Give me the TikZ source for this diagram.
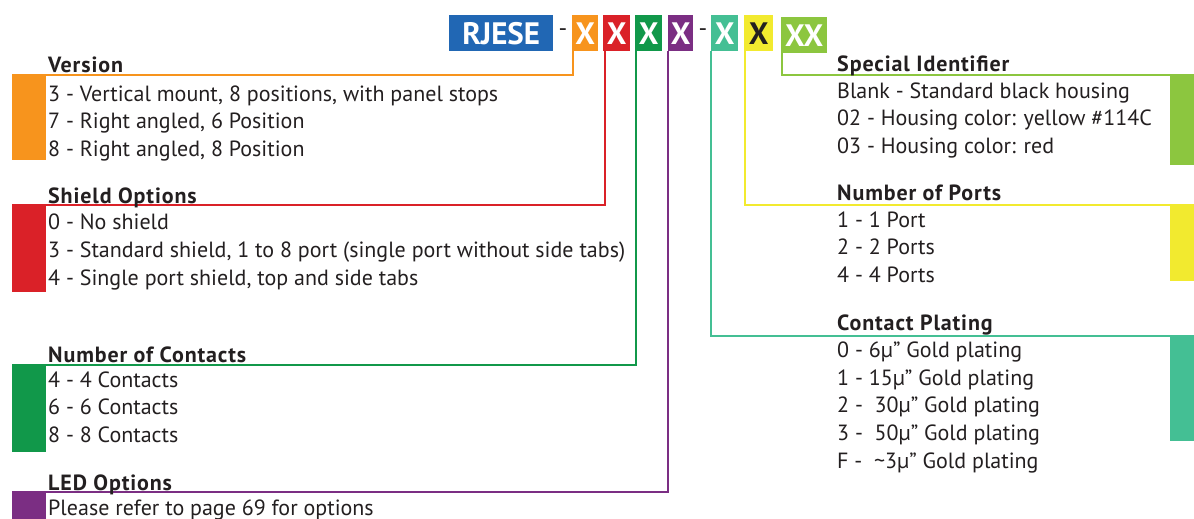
\documentclass[tikz,border=0pt]{standalone}
\usepackage{fontspec}
\setmainfont{PT Sans}
\usetikzlibrary{positioning}
\definecolor{cblue}{HTML}{2167B4}
\definecolor{corange}{HTML}{F7941D}
\definecolor{cred}{HTML}{DA2128}
\definecolor{cgreen}{HTML}{11984A}
\definecolor{cpurple}{HTML}{7B2E83}
\definecolor{cteal}{HTML}{44BF94}
\definecolor{cyellow}{HTML}{F2EA2F}
\definecolor{clime}{HTML}{8CC63F}
\definecolor{ctext}{HTML}{231F20}
\tikzset{
  codebox/.style={fill=#1, text=white, anchor=north west, inner sep=0pt,
    minimum height=36pt, font=\fontsize{31}{33}\selectfont\bfseries},
  wire/.style={draw=#1, line width=2pt},
  heading/.style={anchor=base west, inner sep=0pt, text=ctext,
    font=\fontsize{22}{24}\selectfont\bfseries\addfontfeatures{LetterSpace=4}},
  item/.style={anchor=base west, inner sep=0pt, text=ctext,
    font=\fontsize{22}{24}\selectfont},
}
\begin{document}
\begin{tikzpicture}[x=1pt,y=-1pt]
  \useasboundingbox (0,0) rectangle (1194,519);
  % part number code
  \node[codebox=cblue, minimum width=104pt] (rjese) at (449,15) {RJESE};
  \node[text=ctext, font=\fontsize{24}{26}\selectfont] (dash1) at (563,33) {-};
  \node[codebox=corange, minimum width=26pt] (ver) at (572,15) {X};
  \node[codebox=cred, minimum width=27pt] (shd) at (603,15) {X};
  \node[codebox=cgreen, minimum width=27pt] (con) at (635,15) {X};
  \node[codebox=cpurple, minimum width=25pt] (led) at (668,15) {X};
  \node[text=ctext, font=\fontsize{24}{26}\selectfont] (dash2) at (703,33) {-};
  \node[codebox=cteal, minimum width=27pt] (plt) at (711,15) {X};
  \node[codebox=cyellow, minimum width=29pt, text=ctext] (prt) at (744,15) {X};
  \node[codebox=clime, minimum width=46pt] (spc) at (781,17) {XX};
  % line ends
  \coordinate (verend) at (12,75);
  \coordinate (shdend) at (12,205);
  \coordinate (conend) at (12,365);
  \coordinate (ledend) at (12,492);
  \coordinate (pltend) at (1194,336);
  \coordinate (prtend) at (1194,205);
  \coordinate (spcend) at (1194,75);
  \draw[wire=corange] ([xshift=1pt]ver.south west) |- (verend);
  \draw[wire=cred] ([xshift=2pt]shd.south west) |- (shdend);
  \draw[wire=cgreen] ([xshift=1pt]con.south west) |- (conend);
  \draw[wire=cpurple] ([xshift=0pt]led.south west) |- (ledend);
  \draw[wire=cteal] ([xshift=0pt]plt.south west) |- (pltend);
  \draw[wire=cyellow] ([xshift=1pt]prt.south west) |- (prtend);
  \draw[wire=clime] ([xshift=1pt]spc.south west) |- (spcend);
  % colour bars
  \fill[corange] (12,76) rectangle (46,160);
  \fill[cred] (12,206) rectangle (46,292);
  \fill[cgreen] (12,366) rectangle (46,452);
  \fill[cpurple] (12,493) rectangle (46,519);
  \fill[clime] (1170,76) rectangle (1194,165);
  \fill[cyellow] (1170,206) rectangle (1194,281);
  \fill[cteal] (1170,337) rectangle (1194,441);
  % version
  \node[heading] (vertitle) at (48,73) {Version};
  \node[item] (ver1) at (48,101) {3 - Vertical mount, 8 positions, with panel stops};
  \node[item] (ver2) at (48,128) {7 - Right angled, 6 Position};
  \node[item] (ver3) at (48,156) {8 - Right angled, 8 Position};
  % shield
  \node[heading] (shdtitle) at (48,203) {Shield Options};
  \node[item] (shd1) at (48,229) {0 - No shield};
  \node[item] (shd2) at (48,257) {3 - Standard shield, 1 to 8 port (single port without side tabs)};
  \node[item] (shd3) at (48,285) {4 - Single port shield, top and side tabs};
  % contacts
  \node[heading] (contitle) at (48,362) {Number of Contacts};
  \node[item] (con1) at (48,387) {4 - 4 Contacts};
  \node[item] (con2) at (48,414) {6 - 6 Contacts};
  \node[item] (con3) at (48,442) {8 - 8 Contacts};
  % led
  \node[heading] (ledtitle) at (48,490) {LED Options};
  \node[item] (led1) at (48,515) {Please refer to page 69 for options};
  % special identifier
  \node[heading] (spctitle) at (837,71) {Special Identifier};
  \node[item] (spc1) at (837,98) {Blank - Standard black housing};
  \node[item] (spc2) at (837,125) {02 - Housing color: yellow \#114C};
  \node[item] (spc3) at (837,153) {03 - Housing color: red};
  % ports
  \node[heading] (prttitle) at (837,200) {Number of Ports};
  \node[item] (prt1) at (837,227) {1 - 1 Port};
  \node[item] (prt2) at (837,254) {2 - 2 Ports};
  \node[item] (prt3) at (837,282) {4 - 4 Ports};
  % plating
  \node[heading] (plttitle) at (837,330) {Contact Plating};
  \node[item] (plt1) at (837,357) {0 - 6µ” Gold plating};
  \node[item] (plt2) at (837,385) {1 - 15µ” Gold plating};
  \node[item] (plt3) at (837,412) {2 -\ \ 30µ” Gold plating};
  \node[item] (plt4) at (837,440) {3 -\ \ 50µ” Gold plating};
  \node[item] (plt5) at (837,468) {F -\ \ \textasciitilde3µ” Gold plating};
\end{tikzpicture}
\end{document}
